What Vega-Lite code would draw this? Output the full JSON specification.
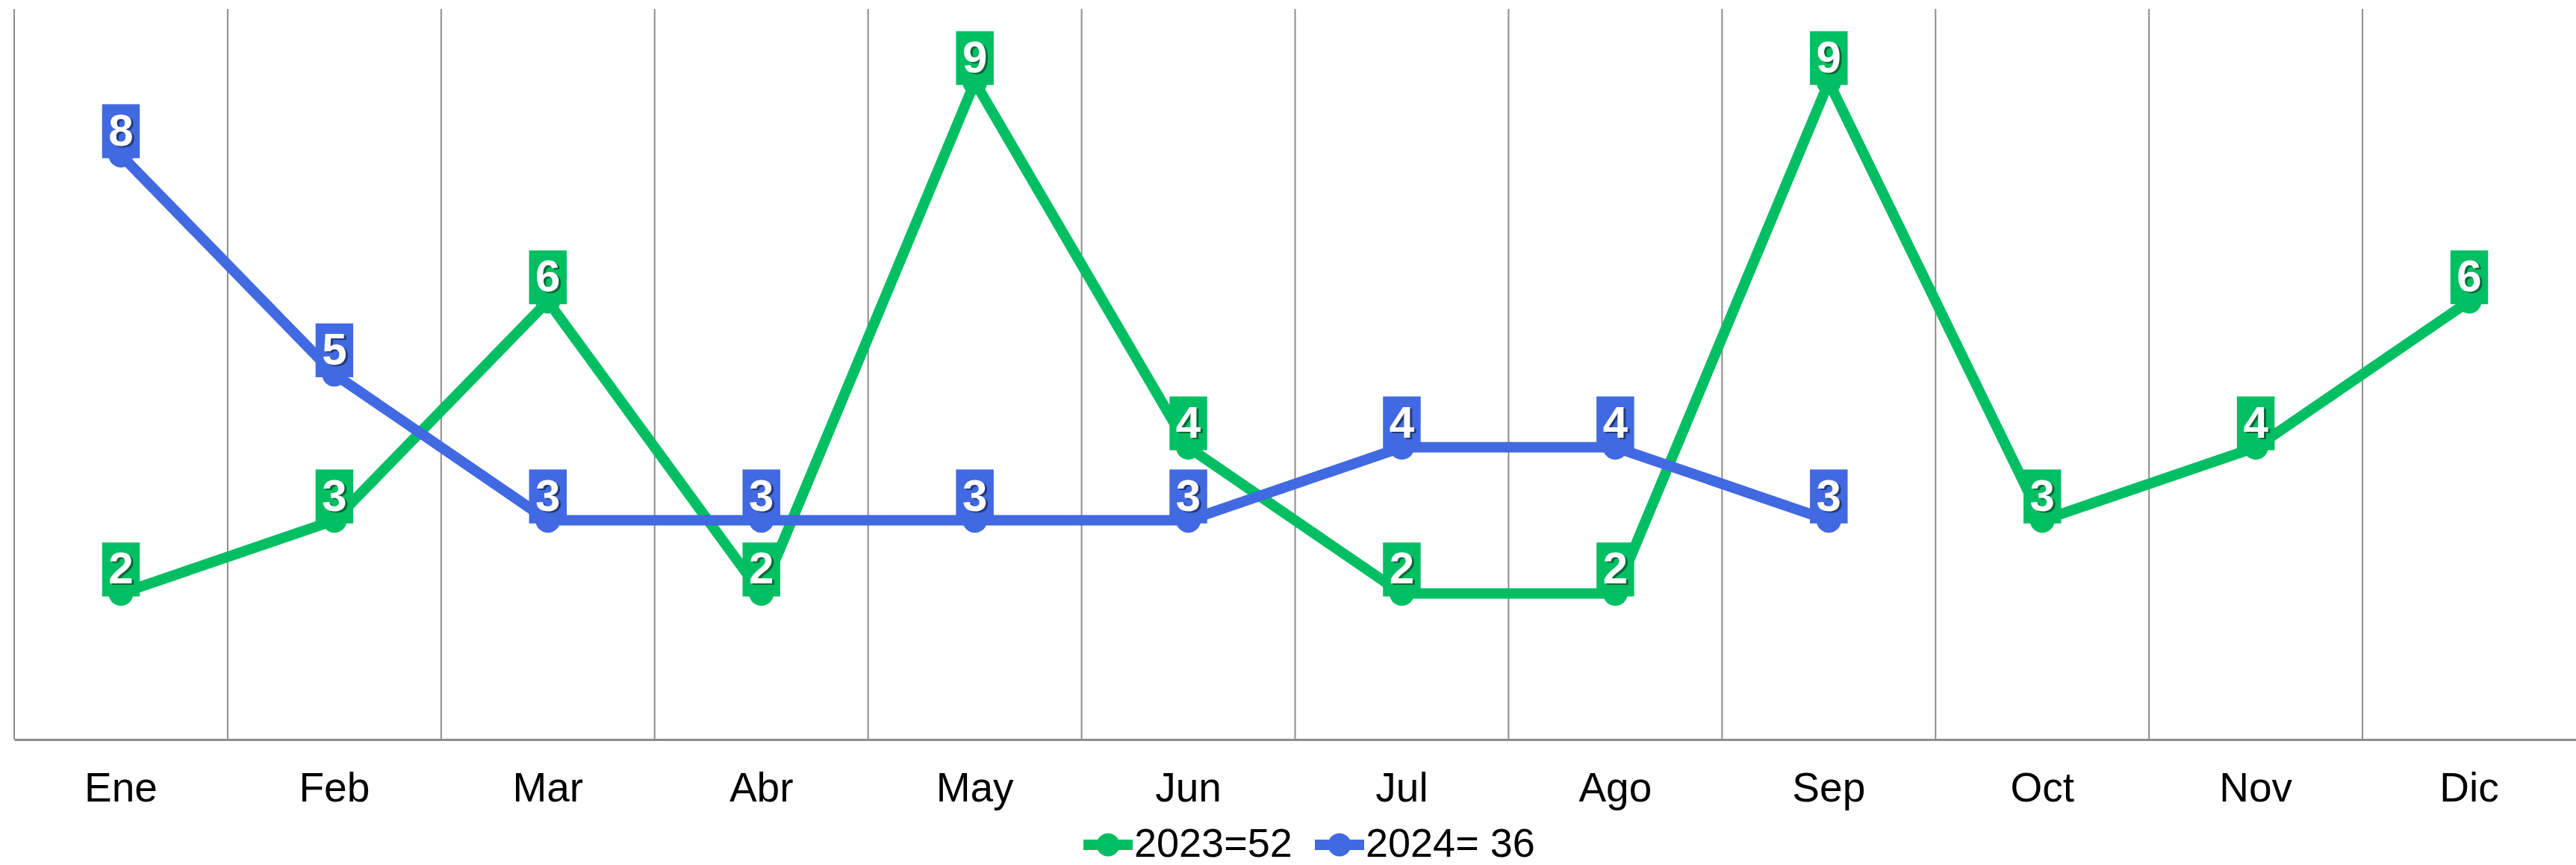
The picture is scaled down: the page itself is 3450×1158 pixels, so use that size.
{
  "$schema": "https://vega.github.io/schema/vega-lite/v6.json",
  "width": 3431,
  "height": 978,
  "autosize": {"type": "none"},
  "padding": {"left": 19, "top": 12, "right": 0, "bottom": 168},
  "background": "white",
  "config": {
    "view": {"stroke": null},
    "font": "Liberation Sans",
    "legend": {
      "orient": "none",
      "legendX": 1432,
      "legendY": 1086,
      "direction": "horizontal",
      "labelFontSize": 54,
      "labelFont": "Liberation Sans",
      "labelColor": "#000000",
      "labelLimit": 0,
      "labelOffset": 2,
      "columnPadding": 30,
      "symbolSize": 4356,
      "symbolStrokeWidth": 0,
      "symbolType": "M-1,-0.21L1,-0.21L1,0.21L-1,0.21Z M-0.47,0 A0.47,0.47 0 1,1 0.47,0 A0.47,0.47 0 1,1 -0.47,0 Z",
      "title": null
    }
  },
  "data": {
    "values": [
      {"month": "Ene", "series": "2023=52", "value": 2},
      {"month": "Feb", "series": "2023=52", "value": 3},
      {"month": "Mar", "series": "2023=52", "value": 6},
      {"month": "Abr", "series": "2023=52", "value": 2},
      {"month": "May", "series": "2023=52", "value": 9},
      {"month": "Jun", "series": "2023=52", "value": 4},
      {"month": "Jul", "series": "2023=52", "value": 2},
      {"month": "Ago", "series": "2023=52", "value": 2},
      {"month": "Sep", "series": "2023=52", "value": 9},
      {"month": "Oct", "series": "2023=52", "value": 3},
      {"month": "Nov", "series": "2023=52", "value": 4},
      {"month": "Dic", "series": "2023=52", "value": 6},
      {"month": "Ene", "series": "2024= 36", "value": 8},
      {"month": "Feb", "series": "2024= 36", "value": 5},
      {"month": "Mar", "series": "2024= 36", "value": 3},
      {"month": "Abr", "series": "2024= 36", "value": 3},
      {"month": "May", "series": "2024= 36", "value": 3},
      {"month": "Jun", "series": "2024= 36", "value": 3},
      {"month": "Jul", "series": "2024= 36", "value": 4},
      {"month": "Ago", "series": "2024= 36", "value": 4},
      {"month": "Sep", "series": "2024= 36", "value": 3}
    ]
  },
  "encoding": {
    "x": {
      "field": "month",
      "type": "nominal",
      "sort": ["Ene", "Feb", "Mar", "Abr", "May", "Jun", "Jul", "Ago", "Sep", "Oct", "Nov", "Dic"],
      "scale": {"paddingInner": 0, "paddingOuter": 0},
      "axis": {
        "title": null,
        "labelAngle": 0,
        "labelFontSize": 55,
        "labelFont": "Liberation Sans",
        "labelColor": "#000000",
        "labelPadding": 39,
        "ticks": false,
        "grid": false,
        "domainColor": "#8c8c8c",
        "domainWidth": 3
      }
    }
  },
  "layer": [
    {
      "transform": [{"filter": "datum.series === '2023=52'"}],
      "mark": {"type": "rule", "color": "#8c8c8c", "strokeWidth": 2},
      "encoding": {
        "x": {
          "field": "month",
          "type": "nominal",
          "sort": ["Ene", "Feb", "Mar", "Abr", "May", "Jun", "Jul", "Ago", "Sep", "Oct", "Nov", "Dic"],
          "bandPosition": 0
        }
      }
    },
    {
      "mark": {
        "type": "line",
        "strokeWidth": 14,
        "strokeJoin": "round",
        "point": {"filled": true, "size": 1100, "opacity": 1}
      },
      "encoding": {
        "y": {"field": "value", "type": "quantitative", "scale": {"domain": [0, 10]}, "axis": null},
        "color": {
          "field": "series",
          "type": "nominal",
          "scale": {"domain": ["2023=52", "2024= 36"], "range": ["#00BF63", "#4169E1"]},
          "legend": {
            "encode": {
              "symbols": {"update": {"fill": {"scale": "color", "field": "value"}, "opacity": {"value": 1}}}
            }
          }
        }
      }
    },
    {
      "mark": {
        "type": "point",
        "filled": true,
        "opacity": 1,
        "shape": "M-0.7,-1L0.7,-1L0.7,1L-0.7,1Z",
        "size": 5200,
        "yOffset": -32
      },
      "encoding": {
        "y": {"field": "value", "type": "quantitative"},
        "color": {"field": "series", "type": "nominal"}
      }
    },
    {
      "mark": {
        "type": "text",
        "font": "Liberation Sans",
        "fontWeight": "bold",
        "fontSize": 60,
        "baseline": "middle",
        "align": "center",
        "color": "#000000",
        "opacity": 0.45,
        "yOffset": -29,
        "xOffset": 3
      },
      "encoding": {
        "y": {"field": "value", "type": "quantitative"},
        "text": {"field": "value", "type": "quantitative"}
      }
    },
    {
      "mark": {
        "type": "text",
        "font": "Liberation Sans",
        "fontWeight": "bold",
        "fontSize": 60,
        "baseline": "middle",
        "align": "center",
        "color": "#ffffff",
        "yOffset": -31
      },
      "encoding": {
        "y": {"field": "value", "type": "quantitative"},
        "text": {"field": "value", "type": "quantitative"}
      }
    }
  ]
}
